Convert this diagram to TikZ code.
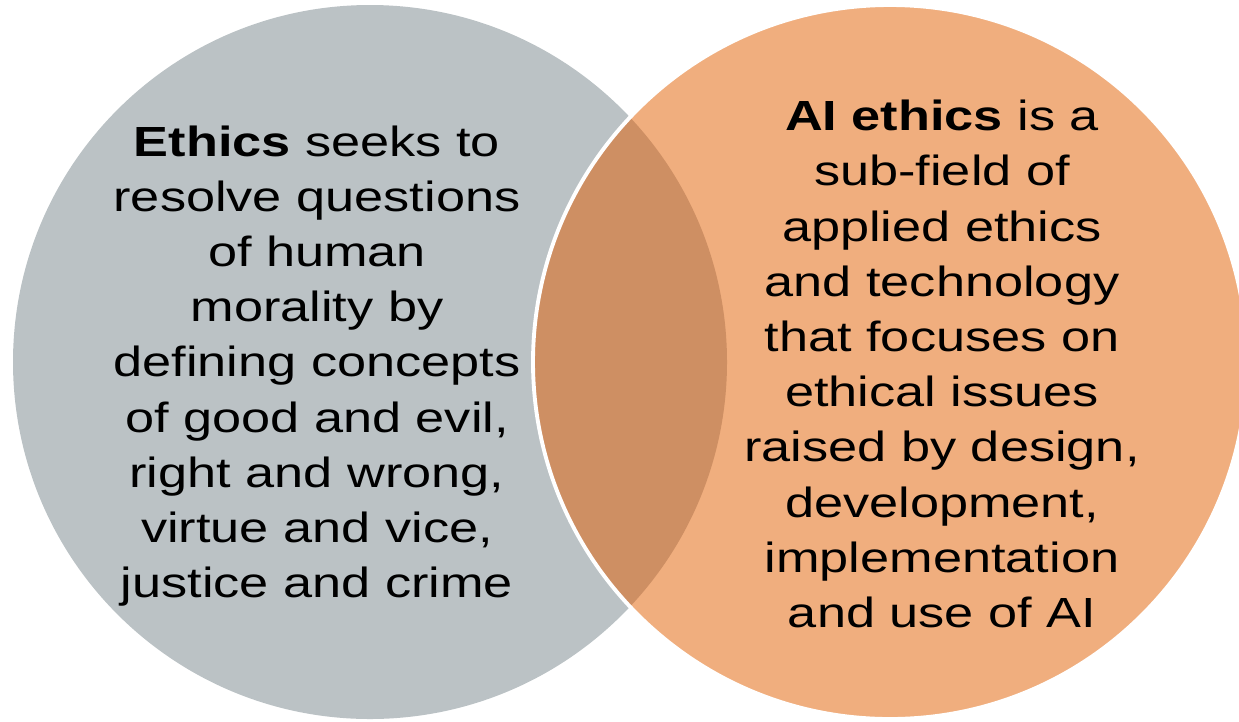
\documentclass[tikz,border=0pt]{standalone}
\usepackage{fontspec}
\setmainfont[FakeStretch=1.24]{Liberation Sans}
\usetikzlibrary{positioning}

\definecolor{EthGray}{RGB}{187,194,197}
\definecolor{AIOrange}{RGB}{240,174,126}
\definecolor{Overlap}{RGB}{206,143,99}

\begin{document}
\begin{tikzpicture}[x=0.02cm, y=-0.02cm]
			\tikzstyle{Ring}	= [line width=2.2pt, white]
			\tikzstyle{Text}	= [align=center, inner sep=0pt, font=\fontsize{24}{31.4}\selectfont]
			
			\useasboundingbox (0, 0) rectangle (1239, 721);
			
			\fill [EthGray] (370, 362) circle (357);
			\fill [AIOrange] (890, 362) circle (357);
			\begin{scope}
				\clip (370, 362) circle (357);
				\fill [Overlap] (890, 362) circle (357);
			\end{scope}
			\draw [Ring] (890, 362) circle (357);
			
			\node (ethics) at (317, 366) [Text] {\textbf{Ethics} seeks to\\resolve questions\\of human\\morality by\\defining concepts\\of good and evil,\\right and wrong,\\virtue and vice,\\justice and crime};
			\node (aiethics) at (942, 364) [Text] {\textbf{AI ethics} is a\\sub-field of\\applied ethics\\and technology\\that focuses on\\ethical issues\\raised by design,\\development,\\implementation\\and use of AI};
		\end{tikzpicture}
\end{document}
